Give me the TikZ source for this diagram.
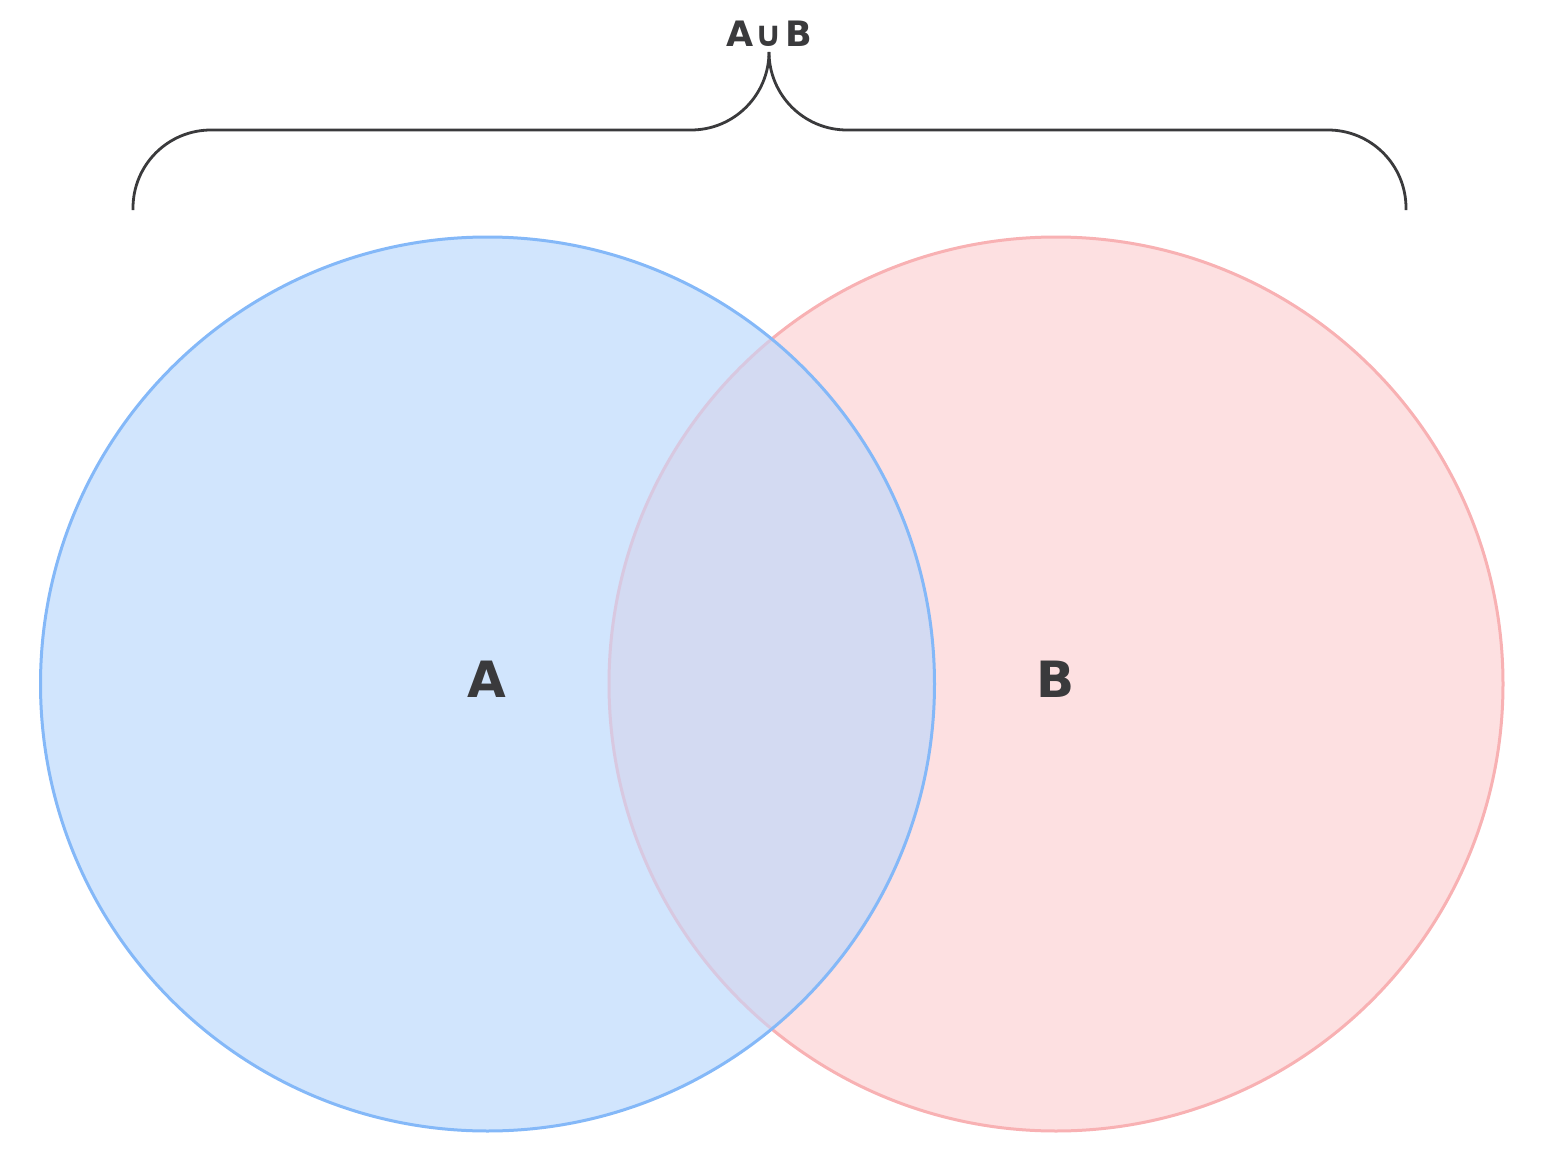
\documentclass[tikz,border=0pt]{standalone}
\usepackage{fontspec}
\setmainfont{DejaVu Sans}
\usepackage{xcolor}
\definecolor{setAfill}{HTML}{D1E5FD}
\definecolor{setAline}{HTML}{84B8F8}
\definecolor{setBfill}{HTML}{FDE0E1}
\definecolor{setBline}{HTML}{F8B1B3}
\definecolor{overlapfill}{HTML}{D3DAF2}
\definecolor{overlapline}{HTML}{D8C8E0}
\definecolor{labelgray}{HTML}{3A3A3C}

\begin{document}
\begin{tikzpicture}[x=0.5pt, y=-0.5pt,
  every node/.style = {text=labelgray, inner sep=0pt},
  setlabel/.style = {font=\fontsize{25}{30}\selectfont\bfseries},
  toplabel/.style = {font=\fontsize{17.5}{20}\selectfont\bfseries},
  setline/.style = {line width=1.5pt},
  brace/.style = {draw=labelgray, line width=1.4pt, rounded corners=39pt}]
  \useasboundingbox (0,0) rectangle (1559,1172);
  \coordinate (cA) at (487.5,684);
  \coordinate (cB) at (1056,684);
  % set B below, set A over it
  \fill[setBfill] (cB) circle[radius=223.5pt];
  \draw[setline, setBline] (cB) circle[radius=223.5pt];
  \fill[setAfill] (cA) circle[radius=223.5pt];
  \begin{scope}
    \clip (cA) circle[radius=223.5pt];
    \fill[overlapfill] (cB) circle[radius=223.5pt];
    \draw[setline, overlapline] (cB) circle[radius=223.5pt];
  \end{scope}
  \draw[setline, setAline] (cA) circle[radius=223.5pt];
  \node[setlabel] (labelA) at (487,679) {A};
  \node[setlabel] (labelB) at (1056,679) {B};
  \node[toplabel] (union) at (769,34) {A\kern0.8pt∪\kern0.8pt B};
  % brace over both sets
  \coordinate (tip) at (769,52);
  \coordinate (left) at (133,210);
  \coordinate (right) at (1406,210);
  \draw[brace] (left) -- (133,130) -- (769,130) -- (tip);
  \draw[brace] (tip) -- (769,130) -- (1406,130) -- (right);
\end{tikzpicture}
\end{document}
